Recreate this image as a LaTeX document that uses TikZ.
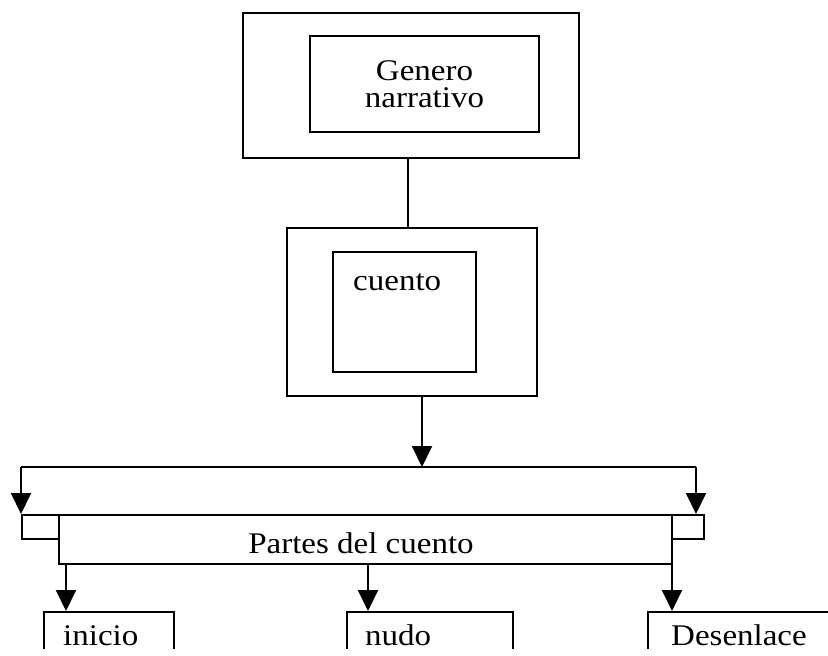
\documentclass[tikz,border=0pt]{standalone}
\usepackage{fontspec}
\setmainfont{Liberation Serif}[FakeStretch=1.1]
\usetikzlibrary{arrows.meta}
\begin{document}
\begin{tikzpicture}[x=1pt,y=-1pt,
  box/.style={draw, line width=2pt, inner sep=0pt, anchor=north west},
  txt/.style={inner sep=0pt, font=\fontsize{30}{27}\selectfont},
  conn/.style={line width=2pt},
  arr/.style={line width=2pt, -{Triangle[width=20pt,length=21pt]}}]
\useasboundingbox[fill=white] (0,0) rectangle (828,656);
\clip (0,0) rectangle (828,648);
% top
\node[box, minimum width=336pt, minimum height=145pt] (genout) at (242,12) {};
\node[box, minimum width=229pt, minimum height=96pt, align=center, txt, draw, line width=2pt] (genin) at (309,35) {Genero\\narrativo};
% middle
\node[box, minimum width=250pt, minimum height=168pt] (cuout) at (286,227) {};
\node[box, minimum width=143pt, minimum height=120pt] (cuin) at (332,251) {};
\node[txt, anchor=base west] (cutxt) at (353,290) {cuento};
\coordinate (xg) at (408,0);
\draw[conn] (genout.south -| xg) -- (cuout.north -| xg);
% distribution bar
\coordinate (xc) at (422,0);
\coordinate (bar) at (422,467);
\coordinate (barL) at (21,467);
\coordinate (barR) at (696,467);
\draw[arr] (cuout.south -| xc) -- (bar);
\draw[conn] (barL) -- (barR);
% partes
\node[box, minimum width=37pt, minimum height=24pt] (sl) at (21,514) {};
\node[box, minimum width=32pt, minimum height=24pt] (sr) at (671,514) {};
\node[box, minimum width=613pt, minimum height=49pt] (partes) at (58,514) {};
\node[txt, anchor=base] (partxt) at (361,553) {Partes del cuento};
\draw[arr] (barL) -- (barL |- sl.north);
\draw[arr] (barR) -- (barR |- sr.north);
% bottom boxes
\node[box, minimum width=130pt, minimum height=100pt] (inicio) at (43,611) {};
\node[box, minimum width=166pt, minimum height=100pt] (nudo) at (346,611) {};
\node[box, minimum width=240pt, minimum height=100pt] (desen) at (647,611) {};
\node[txt, anchor=base west] (initxt) at (63,645) {inicio};
\node[txt, anchor=base west] (nudtxt) at (365,645) {nudo};
\node[txt, anchor=base west] (destxt) at (671,645) {Desenlace};
\coordinate (x1) at (66,0);
\coordinate (x2) at (368,0);
\coordinate (x3) at (672,0);
\draw[arr] (partes.south -| x1) -- (inicio.north -| x1);
\draw[arr] (partes.south -| x2) -- (nudo.north -| x2);
\draw[arr] (partes.south -| x3) -- (desen.north -| x3);
\end{tikzpicture}
\end{document}
